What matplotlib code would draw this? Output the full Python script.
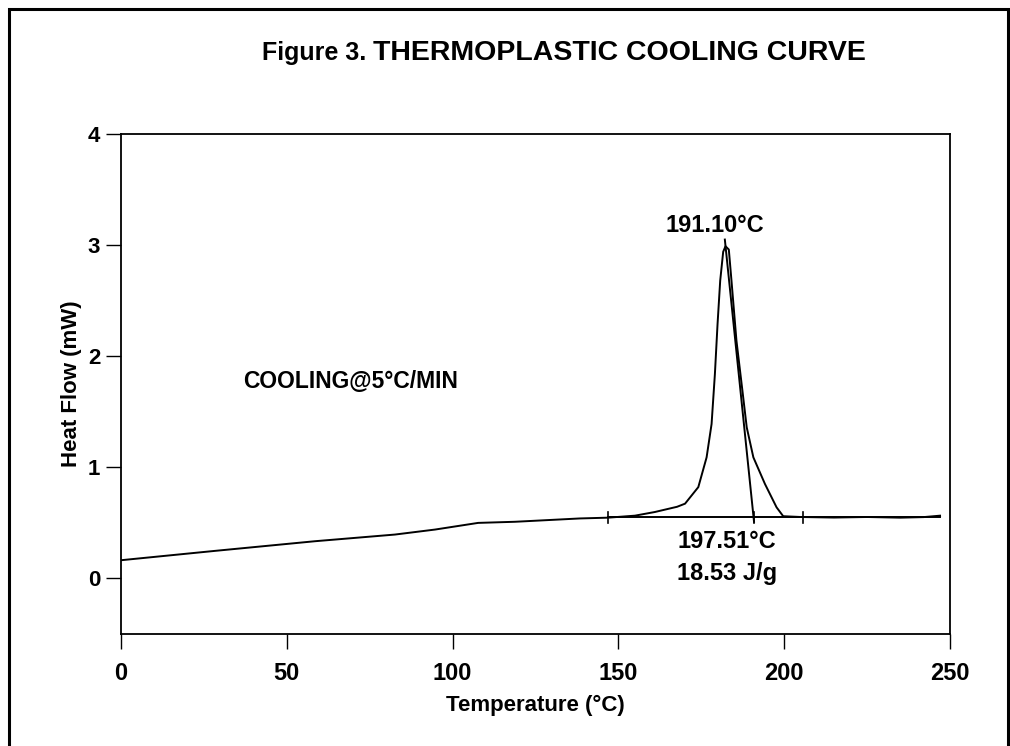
import matplotlib
matplotlib.use("Agg")
import matplotlib.pyplot as plt
from matplotlib.patches import Rectangle
from matplotlib import font_manager

# ---- data ----
temperature = [0, 28.3, 58.5, 82.6, 94.7, 107.7, 118.8, 138.4, 146.9, 155.0, 161.0, 167.7,
               170.1, 174.1, 176.6, 178.1, 179.1, 179.9, 180.7, 181.6, 182.3,
               183.3, 184.1, 185.6, 187.4, 188.7, 190.7, 194.2, 197.7, 199.7,
               205.0, 215.0, 225.0, 235.0, 242.0, 247.0]
heat_flow = [0.164, 0.248, 0.335, 0.395, 0.44, 0.50, 0.51, 0.54, 0.547, 0.565, 0.598, 0.645,
             0.673, 0.822, 1.09, 1.39, 1.84, 2.29, 2.68, 2.94, 2.99,
             2.96, 2.68, 2.14, 1.69, 1.36, 1.09, 0.85, 0.64, 0.56,
             0.553, 0.548, 0.553, 0.547, 0.552, 0.565]

tangent_t = [182.1, 190.9]
tangent_hf = [3.05, 0.51]

baseline_t = [146.9, 247.0]
baseline_hf = [0.552, 0.552]
baseline_marks = [146.9, 190.9, 205.7]

x_ticks = [0, 50, 100, 150, 200, 250]
y_ticks = [0, 1, 2, 3, 4]

# ---- fonts ----
names = {f.name for f in font_manager.fontManager.ttflist}
narrow = ["Liberation Sans Narrow", "Liberation Sans"] if "Liberation Sans Narrow" in names else ["Liberation Sans"]
arial = ["Liberation Sans", "DejaVu Sans"]

fig = plt.figure(figsize=(10.10, 7.46), dpi=100)
ax = fig.add_axes([121/1010, 1 - 634/746, (950-121)/1010, (634-134)/746])

ax.plot(temperature, heat_flow, color="black", lw=1.4)
ax.plot(tangent_t, tangent_hf, color="black", lw=1.4)
ax.plot(baseline_t, baseline_hf, color="black", lw=1.4)
for t in baseline_marks:
    ax.plot([t, t], [0.552 - 0.05, 0.552 + 0.05], color="black", lw=1.2)

ax.set_xlim(0, 250)
ax.set_ylim(-0.5, 4)
ax.set_xticks(x_ticks)
ax.set_yticks(y_ticks)
ax.tick_params(axis="x", direction="out", length=11, width=1.0, pad=9)
ax.tick_params(axis="y", direction="out", length=11, width=1.0, pad=4)
for s in ax.spines.values():
    s.set_linewidth(1.3)
for lab in ax.get_xticklabels():
    lab.set_fontfamily(narrow); lab.set_fontweight("bold"); lab.set_fontsize(17)
for lab in ax.get_yticklabels():
    lab.set_fontfamily(arial); lab.set_fontweight("bold"); lab.set_fontsize(16)

ax.set_xlabel("Temperature (°C)", family=narrow, fontweight="bold", fontsize=16, labelpad=7)
ax.set_ylabel("Heat Flow (mW)", family=arial, fontweight="bold", fontsize=16, labelpad=4)

ax.text(179.1, 3.18, "191.10°C", family=arial, fontweight="bold", fontsize=17,
        ha="center", va="center")
ax.text(182.7, 0.33, "197.51°C", family=arial, fontweight="bold", fontsize=17,
        ha="center", va="center")
ax.text(182.9, 0.045, "18.53 J/g", family=arial, fontweight="bold", fontsize=17,
        ha="center", va="center")
ax.text(36.8, 1.77, "COOLING@5°C/MIN", family=arial, fontweight="bold", fontsize=16.5,
        ha="left", va="center")

# title
t1 = fig.text(262/1010, 1 - 53/746, "Figure 3. ", family=narrow, fontweight="bold",
              fontsize=18, ha="left", va="center")
fig.canvas.draw()
bb = t1.get_window_extent()
fig.text(bb.x1/1010, 1 - 53/746, "THERMOPLASTIC COOLING CURVE", family=narrow,
         fontweight="bold", fontsize=20.5, ha="left", va="center")

# figure border
fig.patches.append(Rectangle((9/1010, -0.05), (1008-9)/1010, 1.05 - 9/746,
                             transform=fig.transFigure, fill=False, ec="black", lw=2.2))

fig.savefig("out.png", dpi=100)
